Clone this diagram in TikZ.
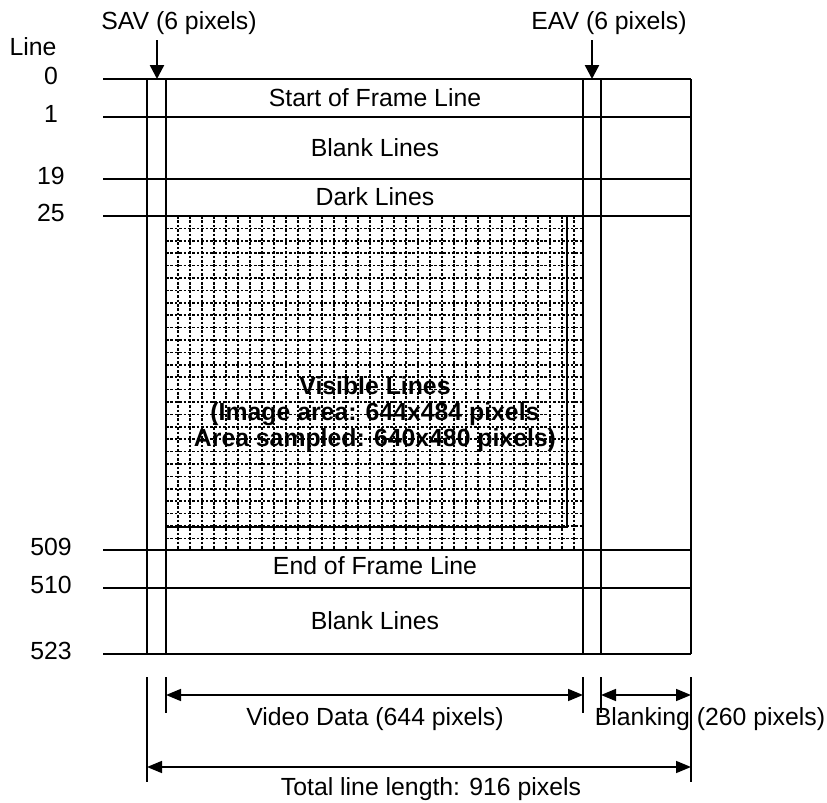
\documentclass[tikz,border=0pt]{standalone}
\usepackage{fontspec}
\setmainfont{Liberation Sans}
\usetikzlibrary{arrows.meta}

\begin{document}
\begin{tikzpicture}[x=0.5pt,y=-0.5pt,line width=1.2pt,
    font=\fontsize{12.4}{14}\selectfont,
    lbl/.style={inner sep=0pt},
    tip/.style={-{Triangle[length=7pt,width=7pt]}},
    dimline/.style={line width=0.8pt,{Triangle[length=7.5pt,width=6pt]}-{Triangle[length=7.5pt,width=6pt]}},
    tick/.style={line width=0.8pt},
    gridline/.style={line width=0.8pt,dash pattern=on 1.3pt off 0.9pt}]
    \useasboundingbox (0,0) rectangle (827,803);

    % dotted sampling grid
    \foreach \gx in {178,190,...,582}
        \draw[gridline] (\gx,216) -- (\gx,550);
    \foreach \gy in {228.4,240.8,...,549}
        \draw[gridline] (166,\gy) -- (583,\gy);
    \draw (166,216) rectangle (567,527);

    % line boundaries
    \foreach \ly/\ln in {79/0,117/1,179/19,216/25,550/509,588/510,654/523} {
        \draw (103,\ly) -- (691,\ly);
        \node[lbl] (n\ln) at (51,\ly-3) {\ln};
    }
    \node[lbl] (line) at (33,47) {Line};

    \draw (147,79) -- (147,654);
    \draw (166,79) -- (166,654);
    \draw (583,79) -- (583,654);
    \draw (601,79) -- (601,654);
    \draw (691,79) -- (691,654);

    \node[lbl] (start) at (375,98) {Start of Frame Line};
    \node[lbl] (blank1) at (375,148) {Blank Lines};
    \node[lbl] (dark) at (375,197) {Dark Lines};
    \node[lbl] (visible) at (375,415) {\bfseries\begin{tabular}{@{}c@{}}Visible Lines\\[-1pt] (Image area: 644x484 pixels\\[-1pt] Area sampled: 640x480 pixels)\end{tabular}};
    \node[lbl] (end) at (375,566) {End of Frame Line};
    \node[lbl] (blank2) at (375,621) {Blank Lines};

    % SAV and EAV markers
    \node[lbl] (sav) at (179,23) {SAV (6 pixels)};
    \node[lbl] (eav) at (609,23) {EAV (6 pixels)};
    \coordinate (savtop) at (157,40);
    \coordinate (savbot) at (157,79);
    \coordinate (eavtop) at (592,40);
    \coordinate (eavbot) at (592,79);
    \draw[tip] (savtop) -- (savbot);
    \draw[tip] (eavtop) -- (eavbot);

    % dimensions
    \draw[tick] (147,677) -- (147,782);
    \draw[tick] (166,677) -- (166,713);
    \draw[tick] (583,677) -- (583,713);
    \draw[tick] (601,677) -- (601,713);
    \draw[tick] (691,677) -- (691,782);

    \coordinate (vd1) at (166,695);
    \coordinate (vd2) at (583,695);
    \coordinate (bl1) at (601,695);
    \coordinate (bl2) at (691,695);
    \coordinate (tl1) at (147,767);
    \coordinate (tl2) at (691,767);
    \draw[dimline] (vd1) -- (vd2);
    \draw[dimline] (bl1) -- (bl2);
    \draw[dimline] (tl1) -- (tl2);

    \node[lbl] (video) at (375,719) {Video Data (644 pixels)};
    \node[lbl] (blanking) at (710,719) {Blanking (260 pixels)};
    \node[lbl] (total) at (431,789) {Total line length: 916 pixels};
\end{tikzpicture}
\end{document}
